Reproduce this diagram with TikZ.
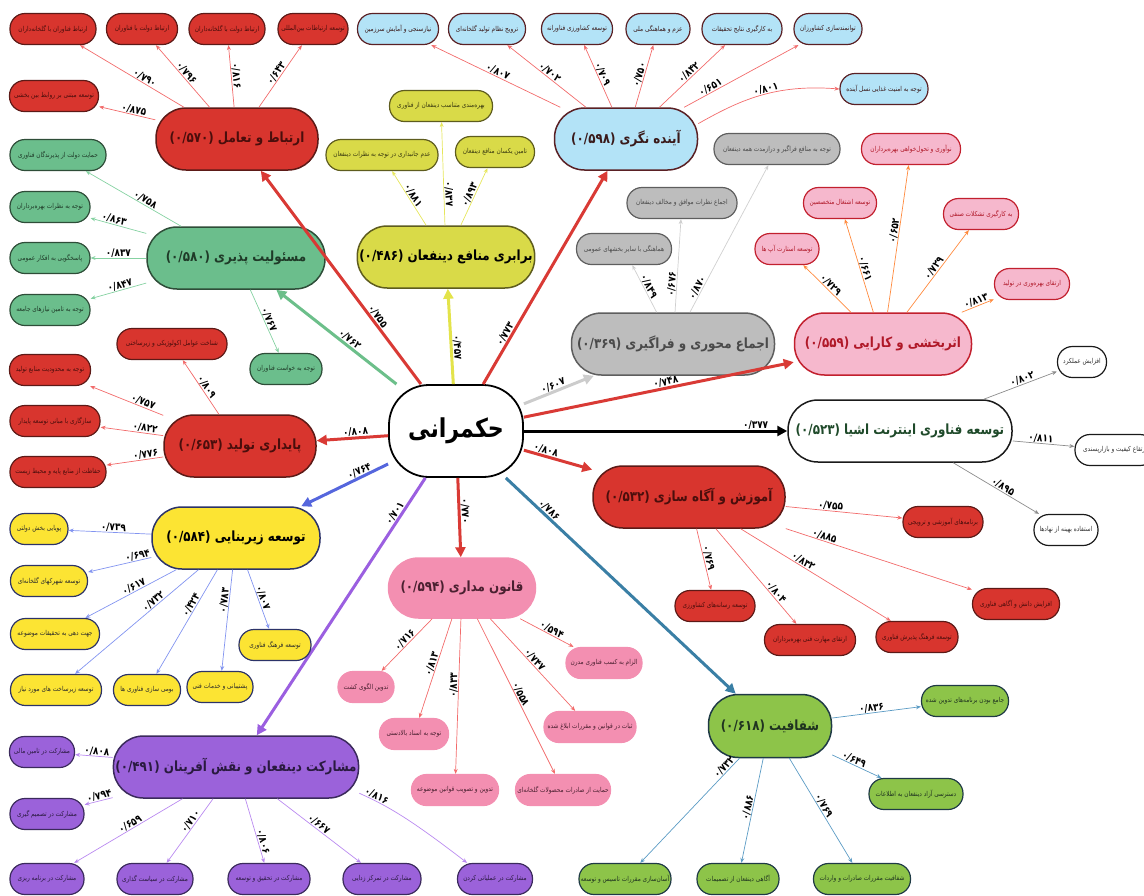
\documentclass[tikz,border=0pt]{standalone}
\usepackage{fontspec}
\usepackage{tikz}
\usetikzlibrary{arrows.meta}
\TeXXeTstate=1
\newfontfamily\farsi[Script=Arabic,FakeStretch=0.85]{DejaVu Sans}
\def\fatext#1{\beginR #1\endR}

\definecolor{redfill}{HTML}{D8352E}\definecolor{redline}{HTML}{5C1A17}\definecolor{redtext}{HTML}{4A0E0C}
\definecolor{greenfill}{HTML}{6BBE8C}\definecolor{greenline}{HTML}{2E4D38}\definecolor{greentext}{HTML}{1F3A28}
\definecolor{olivefill}{HTML}{D9DA48}\definecolor{oliveline}{HTML}{5E5C1E}\definecolor{olivetext}{HTML}{3A3A10}
\definecolor{bluefill}{HTML}{B3E3F7}\definecolor{blueline}{HTML}{5A2024}\definecolor{bluetext}{HTML}{3A1A1A}
\definecolor{grayfill}{HTML}{BDBDBD}\definecolor{grayline}{HTML}{5E5E5E}\definecolor{graytext}{HTML}{4A4A4A}
\definecolor{pinkfill}{HTML}{F6B8CD}\definecolor{pinkline}{HTML}{C2202E}\definecolor{pinktext}{HTML}{B01828}
\definecolor{iotline}{HTML}{1A1A1A}\definecolor{iottext}{HTML}{1F4A2A}
\definecolor{yellowfill}{HTML}{FCE433}\definecolor{yellowline}{HTML}{2C3368}\definecolor{yellowtext}{HTML}{2A2A2A}
\definecolor{rosefill}{HTML}{F38FB1}\definecolor{rosetext}{HTML}{4A2030}
\definecolor{purplefill}{HTML}{9B62DA}\definecolor{purpleline}{HTML}{3B2A5C}\definecolor{purpletext}{HTML}{2A1A40}
\definecolor{limefill}{HTML}{8DC449}\definecolor{limeline}{HTML}{1F3A45}\definecolor{limetext}{HTML}{1F3320}
% connector colours
\definecolor{trred}{HTML}{D93A35}\definecolor{trgreen}{HTML}{6CBF8A}\definecolor{tryellow}{HTML}{E3E34A}
\definecolor{trgray}{HTML}{CCCCCC}\definecolor{trblue}{HTML}{5566DD}\definecolor{trpurple}{HTML}{9B5FE0}
\definecolor{trsteel}{HTML}{3A7FA5}
\definecolor{twred}{HTML}{F26B6B}\definecolor{twgreen}{HTML}{86D2A2}\definecolor{twolive}{HTML}{E6E65C}
\definecolor{twgray}{HTML}{CFCFCF}\definecolor{tworange}{HTML}{FF8A3D}\definecolor{twdark}{HTML}{8C8C8C}
\definecolor{twblue}{HTML}{8294F0}\definecolor{twpurple}{HTML}{BA8AF0}\definecolor{twsteel}{HTML}{5B9BC4}

\tikzset{
  hub/.style={rectangle, rounded corners=40pt, minimum width=134pt, minimum height=92pt, line width=1.8pt,
    draw=black, fill=white, font=\farsi\bfseries\fontsize{26}{28}\selectfont},
  topic/.style={rectangle, rounded corners=30pt, minimum height=62pt, line width=1.5pt, inner sep=2pt,
    font=\farsi\bfseries\fontsize{14}{16}\selectfont},
  box/.style={rectangle, rounded corners=15pt, minimum height=31pt, inner sep=1pt, line width=1.2pt,
    font=\farsi\fontsize{6.8}{8}\selectfont},
  redbox/.style={fill=redfill, draw=redline, text=redtext},
  greenbox/.style={fill=greenfill, draw=greenline, text=greentext},
  olivebox/.style={fill=olivefill, draw=oliveline, text=olivetext},
  bluebox/.style={fill=bluefill, draw=blueline, text=bluetext},
  graybox/.style={fill=grayfill, draw=grayline, text=graytext},
  pinkbox/.style={fill=pinkfill, draw=pinkline, text=pinktext},
  iotbox/.style={fill=white, draw=iotline, text=iottext},
  yellowbox/.style={fill=yellowfill, draw=yellowline, text=yellowtext},
  rosebox/.style={fill=rosefill, draw=rosefill, text=rosetext},
  purplebox/.style={fill=purplefill, draw=purpleline, text=purpletext},
  limebox/.style={fill=limefill, draw=limeline, text=limetext},
  trunk/.style={line width=3pt, -{Triangle[length=10pt,width=10pt]}},
  twig/.style={line width=0.7pt, -{Stealth[length=5pt,width=4pt]}},
  num/.style={font=\farsi\bfseries\fontsize{10.5}{11}\selectfont, sloped, above, inner sep=0.3pt, text=black}
}

\begin{document}
\begin{tikzpicture}[x=1pt,y=-1pt]
%%%%% START %%%%%
\useasboundingbox (0,0) rectangle (1144,895);

\node[hub] (gov) at (456,431) {\fatext{حکمرانی}};

% topics round the hub
\node[topic, redbox, minimum width=162pt] (comm) at (237,139) {(۰/۵۷۰) \fatext{ارتباط و تعامل}};
\node[topic, greenbox, minimum width=178pt] (resp) at (236,258) {(۰/۵۸۰) \fatext{مسئولیت پذیری}};
\node[topic, olivebox, text=black, minimum width=176pt] (equ) at (446,257) {(۰/۴۸۶) \fatext{برابری منافع دینفعان}};
\node[topic, bluebox, minimum width=143pt] (fut) at (626,139) {(۰/۵۹۸) \fatext{آینده نگری}};
\node[topic, graybox, minimum width=203pt] (cons) at (673,344) {(۰/۳۶۹) \fatext{اجماع محوری و فراگیری}};
\node[topic, pinkbox, minimum width=177pt] (eff) at (883,344) {(۰/۵۵۹) \fatext{اثربخشی و کارایی}};
\node[topic, iotbox, minimum width=224pt] (iot) at (900,431) {(۰/۵۲۳) \fatext{توسعه فناوری اینترنت اشیا}};
\node[topic, redbox, minimum width=192pt] (edu) at (689,497) {(۰/۵۳۲) \fatext{آموزش و آگاه سازی}};
\node[topic, redbox, minimum width=152pt] (sus) at (240,446) {(۰/۶۵۳) \fatext{پایداری تولید}};
\node[topic, yellowbox, text=black, minimum width=168pt] (infra) at (236,538) {(۰/۵۸۴) \fatext{توسعه زیربنایی}};
\node[topic, rosebox, minimum width=147pt, minimum height=60pt] (law) at (462,588) {(۰/۵۹۴) \fatext{قانون مداری}};
\node[topic, purplebox, minimum width=235pt] (part) at (236,767) {(۰/۴۹۱) \fatext{مشارکت دینفعان و نقش آفرینان}};
\node[topic, limebox, minimum width=123pt, minimum height=63pt] (trans) at (770,726) {(۰/۶۱۸) \fatext{شفافیت}};

\draw[trunk, draw=trred] (gov) -- node[num, pos=.3]{۰/۷۵۵} (comm);
\draw[trunk, draw=trgreen] (gov) -- node[num, pos=.42]{۰/۷۶۲} (resp);
\draw[trunk, draw=tryellow] (gov) -- node[num, pos=.38]{۰/۴۵۷} (equ);
\draw[trunk, draw=trred] (gov) -- node[num, pos=.22]{۰/۷۷۳} (fut);
\draw[trunk, draw=trgray] (gov) -- node[num, pos=.45]{۰/۶۰۷} (cons);
\draw[trunk, draw=trred] (gov) -- node[num, pos=.53]{۰/۷۴۸} (eff);
\draw[trunk, draw=black] (gov) -- node[num, pos=.88]{۰/۳۷۷} (iot);
\draw[trunk, draw=trred] (gov) -- node[num, pos=.3]{۰/۸۰۸} (edu);
\draw[trunk, draw=trred] (gov) -- node[num, pos=.45]{۰/۸۰۸} (sus);
\draw[trunk, draw=trblue] (gov) -- node[num, pos=.3]{۰/۷۶۴} (infra);
\draw[trunk, draw=trred] (gov) -- node[num, pos=.42]{۰/۷۷۰} (law);
\draw[trunk, draw=trpurple] (gov) -- node[num, pos=.15]{۰/۷۰۱} (part);
\draw[trunk, draw=trsteel] (gov) -- node[num, pos=.17]{۰/۷۸۶} (trans);

% ertebat
\node[box, redbox, minimum width=86pt] (comm1) at (53,29) {\fatext{ارتباط فناوران با گلخانه‌داران}};
\node[box, redbox, minimum width=71pt] (comm2) at (142,29) {\fatext{ارتباط دولت با فناوران}};
\node[box, redbox, minimum width=76pt] (comm3) at (227,29) {\fatext{ارتباط دولت با گلخانه‌داران}};
\node[box, redbox, minimum width=70pt] (comm4) at (313,29) {\fatext{توسعه ارتباطات بین‌المللی}};
\node[box, redbox, minimum width=89pt] (comm5) at (54,96) {\fatext{توسعه مبتنی بر روابط بین بخشی}};
\draw[twig, draw=twred] (comm) -- node[num, pos=.4]{۰/۷۹۰} (comm1);
\draw[twig, draw=twred] (comm) -- node[num]{۰/۷۹۶} (comm2);
\draw[twig, draw=twred] (comm) -- node[num]{۰/۸۱۶} (comm3);
\draw[twig, draw=twred] (comm) -- node[num]{۰/۶۴۳} (comm4);
\draw[twig, draw=twred] (comm) -- node[num, pos=.4]{۰/۸۷۵} (comm5);

% masouliat
\node[box, greenbox, minimum width=96pt] (resp1) at (58,155) {\fatext{حمایت دولت از پذیرندگان فناوری}};
\node[box, greenbox, minimum width=80pt] (resp2) at (50,207) {\fatext{توجه به نظرات بهره‌برداران}};
\node[box, greenbox, minimum width=80pt] (resp3) at (50,258) {\fatext{پاسخگویی به افکار عمومی}};
\node[box, greenbox, minimum width=80pt] (resp4) at (50,310) {\fatext{توجه به تامین نیازهای جامعه}};
\node[box, greenbox, minimum width=72pt] (resp5) at (286,369) {\fatext{توجه به خواست فناوران}};
\draw[twig, draw=twgreen] (resp) -- node[num, pos=.4]{۰/۷۵۸} (resp1);
\draw[twig, draw=twgreen] (resp) -- node[num, pos=.6]{۰/۸۶۳} (resp2);
\draw[twig, draw=twgreen] (resp) -- node[num]{۰/۸۳۷} (resp3);
\draw[twig, draw=twgreen] (resp) -- node[num, pos=.45]{۰/۸۴۷} (resp4);
\draw[twig, draw=twgreen] (resp) -- node[num]{۰/۷۶۷} (resp5);

% barabari
\node[box, olivebox, minimum width=103pt] (equ1) at (441,106) {\fatext{بهره‌مندی متناسب دینفعان از فناوری}};
\node[box, olivebox, minimum width=112pt] (equ2) at (382,155) {\fatext{عدم جانبداری در توجه به نظرات دینفعان}};
\node[box, olivebox, minimum width=79pt] (equ3) at (495,152) {\fatext{تامین یکسان منافع دینفعان}};
\draw[twig, draw=twolive] (equ) -- node[num]{۰/۸۸۱} (equ2);
\draw[twig, draw=twolive] (equ) -- node[num, pos=.3]{۰/۸۳۷} (equ1);
\draw[twig, draw=twolive] (equ) -- node[num]{۰/۸۹۳} (equ3);

% ayandenegari
\node[box, bluebox, minimum width=81pt] (fut1) at (398,29) {\fatext{نیازسنجی و آمایش سرزمین}};
\node[box, bluebox, minimum width=77pt] (fut2) at (487,29) {\fatext{ترویج نظام تولید گلخانه‌ای}};
\node[box, bluebox, minimum width=71pt] (fut3) at (577,29) {\fatext{توسعه کشاورزی فناورانه}};
\node[box, bluebox, minimum width=64pt] (fut4) at (658,29) {\fatext{عزم و هماهنگی ملی}};
\node[box, bluebox, minimum width=80pt] (fut5) at (742,29) {\fatext{به کارگیری نتایج تحقیقات}};
\node[box, bluebox, minimum width=68pt] (fut6) at (828,29) {\fatext{توانمندسازی کشاورزان}};
\node[box, bluebox, minimum width=88pt] (fut7) at (884,89) {\fatext{توجه به امنیت غذایی نسل آینده}};
\draw[twig, draw=twred] (fut) -- node[num]{۰/۸۰۷} (fut1);
\draw[twig, draw=twred] (fut) -- node[num]{۰/۷۰۲} (fut2);
\draw[twig, draw=twred] (fut) -- node[num]{۰/۷۰۹} (fut3);
\draw[twig, draw=twred] (fut) -- node[num]{۰/۷۵۰} (fut4);
\draw[twig, draw=twred] (fut) -- node[num]{۰/۸۴۲} (fut5);
\draw[twig, draw=twred] (fut) -- node[num, pos=.25]{۰/۶۵۱} (fut6);
\draw[twig, draw=twred] (fut.12) .. controls (740,100) and (775,84) .. node[num, pos=.55]{۰/۸۰۱} (fut7.west);

% ejma
\node[box, graybox, minimum width=126pt] (cons1) at (777,149) {\fatext{توجه به منافع فراگیر و درازمدت همه دینفعان}};
\node[box, graybox, minimum width=110pt] (cons2) at (682,203) {\fatext{اجماع نظرات موافق و مخالف دینفعان}};
\node[box, graybox, minimum width=95pt] (cons3) at (624,249) {\fatext{هماهنگی با سایر بخشهای عمومی}};
\draw[twig, draw=twgray] (cons) -- node[num]{۰/۸۴۹} (cons3);
\draw[twig, draw=twgray] (cons) -- node[num, pos=.3]{۰/۶۷۶} (cons2);
\draw[twig, draw=twgray] (cons) -- node[num, pos=.15]{۰/۸۷۰} (cons1);

% asarbakhshi
\node[box, pinkbox, minimum width=99pt] (eff1) at (911,149) {\fatext{نوآوری و تحول‌خواهی بهره‌برداران}};
\node[box, pinkbox, minimum width=73pt] (eff2) at (840,203) {\fatext{توسعه اشتغال متخصصین}};
\node[box, pinkbox, minimum width=75pt] (eff3) at (981,214) {\fatext{به کارگیری تشکلات صنفی}};
\node[box, pinkbox, minimum width=64pt] (eff4) at (787,249) {\fatext{توسعه استارت آپ ها}};
\node[box, pinkbox, minimum width=75pt] (eff5) at (1032,284) {\fatext{ارتقای بهره‌وری در تولید}};
\draw[twig, draw=tworange] (eff) -- node[num]{۰/۷۲۹} (eff4);
\draw[twig, draw=tworange] (eff) -- node[num, pos=.45]{۰/۶۶۱} (eff2);
\draw[twig, draw=tworange] (eff) -- node[num, pos=.55]{۰/۶۵۲} (eff1);
\draw[twig, draw=tworange] (eff) -- node[num]{۰/۷۲۹} (eff3);
\draw[twig, draw=tworange] (eff) -- node[num]{۰/۸۱۳} (eff5);

% internet ashia
\node[box, iotbox, text=black!80, minimum width=49pt] (iot1) at (1082,362) {\fatext{افزایش عملکرد}};
\node[box, iotbox, text=black!80, minimum width=80pt] (iot2) at (1115,450) {\fatext{ارتقاع کیفیت و بازارپسندی}};
\node[box, iotbox, text=black!80, minimum width=64pt] (iot3) at (1066,530) {\fatext{استفاده بهینه از نهادها}};
\draw[twig, draw=twdark] (iot) -- node[num, pos=.55]{۰/۸۰۲} (iot1);
\draw[twig, draw=twdark] (iot) -- node[num, pos=.45]{۰/۸۱۱} (iot2);
\draw[twig, draw=twdark] (iot) -- node[num, pos=.55]{۰/۸۹۵} (iot3);

% amoozesh
\node[box, redbox, minimum width=80pt] (edu1) at (943,522) {\fatext{برنامه‌های آموزشی و ترویجی}};
\node[box, redbox, minimum width=87pt] (edu2) at (1016,604) {\fatext{افزایش دانش و آگاهی فناوری}};
\node[box, redbox, minimum width=82pt] (edu3) at (917,637) {\fatext{توسعه فرهنگ پذیرش فناوری}};
\node[box, redbox, minimum width=91pt] (edu4) at (810,640) {\fatext{ارتقای مهارت فنی بهره‌برداران}};
\node[box, redbox, minimum width=80pt] (edu5) at (715,606) {\fatext{توسعه رسانه‌های کشاورزی}};
\draw[twig, draw=twred] (edu) -- node[num, pos=.38]{۰/۷۵۵} (edu1);
\draw[twig, draw=twred] (edu) -- node[num, pos=.2]{۰/۸۸۵} (edu2);
\draw[twig, draw=twred] (edu) -- node[num, pos=.4]{۰/۸۳۲} (edu3);
\draw[twig, draw=twred] (edu) -- node[num, pos=.7]{۰/۸۰۴} (edu4);
\draw[twig, draw=twred] (edu) -- node[num]{۰/۷۶۹} (edu5);

% paydari
\node[box, redbox, minimum width=110pt] (sus1) at (172,344) {\fatext{شناخت عوامل اکولوژیکی و زیرساختی}};
\node[box, redbox, minimum width=81pt] (sus2) at (50,370) {\fatext{توجه به محدودیت منابع تولید}};
\node[box, redbox, minimum width=90pt] (sus3) at (55,421) {\fatext{سازگاری با مبانی توسعه پایدار}};
\node[box, redbox, minimum width=96pt] (sus4) at (58,472) {\fatext{حفاظت از منابع پایه و محیط زیست}};
\draw[twig, draw=twred] (sus) -- node[num, pos=.45]{۰/۸۰۹} (sus1);
\draw[twig, draw=twred] (sus) -- node[num, pos=.3]{۰/۷۵۷} (sus2);
\draw[twig, draw=twred] (sus) -- node[num, pos=.3]{۰/۸۲۲} (sus3);
\draw[twig, draw=twred] (sus) -- node[num, pos=.3]{۰/۷۷۶} (sus4);

% zirbanaei
\node[box, yellowbox, minimum width=58pt] (infra1) at (39,529) {\fatext{پویایی بخش دولتی}};
\node[box, yellowbox, minimum width=77pt] (infra2) at (49,581) {\fatext{توسعه شهرکهای گلخانه‌ای}};
\node[box, yellowbox, minimum width=89pt] (infra3) at (55,634) {\fatext{جهت دهی به تحقیقات موضوعه}};
\node[box, yellowbox, minimum width=91pt] (infra4) at (56,690) {\fatext{توسعه زیرساخت های مورد نیاز}};
\node[box, yellowbox, minimum width=67pt] (infra5) at (147,690) {\fatext{بومی سازی فناوری ها}};
\node[box, yellowbox, minimum width=66pt] (infra6) at (220,687) {\fatext{پشتیبانی و خدمات فنی}};
\node[box, yellowbox, minimum width=72pt] (infra7) at (275,645) {\fatext{توسعه فرهنگ فناوری}};
\draw[twig, draw=twblue] (infra) -- node[num, pos=.46]{۰/۷۳۹} (infra1);
\draw[twig, draw=twblue] (infra) -- node[num, pos=.2]{۰/۶۹۴} (infra2);
\draw[twig, draw=twblue] (infra) -- node[num, pos=.44]{۰/۶۱۷} (infra3);
\draw[twig, draw=twblue] (infra) -- node[num, pos=.34]{۰/۷۳۲} (infra4);
\draw[twig, draw=twblue] (infra) -- node[num, pos=.36]{۰/۴۲۴} (infra5);
\draw[twig, draw=twblue] (infra) -- node[num, pos=.31]{۰/۷۸۳} (infra6);
\draw[twig, draw=twblue] (infra) -- node[num]{۰/۸۰۷} (infra7);

% ghanoon
\node[box, rosebox, minimum width=56pt] (law1) at (366,687) {\fatext{تدوین الگوی کشت}};
\node[box, rosebox, minimum width=69pt] (law2) at (414,734) {\fatext{توجه به اسناد بالادستی}};
\node[box, rosebox, minimum width=87pt] (law3) at (455,790) {\fatext{تدوین و تصویب قوانین موضوعه}};
\node[box, rosebox, minimum width=95pt] (law4) at (563,790) {\fatext{حمایت از صادرات محصولات گلخانه‌ای}};
\node[box, rosebox, minimum width=92pt] (law5) at (590,727) {\fatext{ثبات در قوانین و مقررات ابلاغ شده}};
\node[box, rosebox, minimum width=76pt] (law6) at (604,663) {\fatext{الزام به کسب فناوری مدرن}};
\draw[twig, draw=twred] (law) -- node[num, pos=.47]{۰/۷۱۶} (law1);
\draw[twig, draw=twred] (law) -- node[num, pos=.47]{۰/۸۱۳} (law2);
\draw[twig, draw=twred] (law) -- node[num, pos=.43]{۰/۸۳۳} (law3);
\draw[twig, draw=twred] (law) -- node[num]{۰/۵۵۸} (law4);
\draw[twig, draw=twred] (law) -- node[num, pos=.48]{۰/۷۴۷} (law5);
\draw[twig, draw=twred] (law) -- node[num, pos=.55]{۰/۵۹۴} (law6);

% masharekat
\node[box, purplebox, minimum width=65pt] (part1) at (42,752) {\fatext{مشارکت در تامین مالی}};
\node[box, purplebox, minimum width=74pt] (part2) at (47,814) {\fatext{مشارکت در تصمیم گیری}};
\node[box, purplebox, minimum width=74pt] (part3) at (47,879) {\fatext{مشارکت در برنامه ریزی}};
\node[box, purplebox, minimum width=76pt] (part4) at (155,879) {\fatext{مشارکت در سیاست گذاری}};
\node[box, purplebox, minimum width=82pt] (part5) at (269,879) {\fatext{مشارکت در تحقیق و توسعه}};
\node[box, purplebox, minimum width=78pt] (part6) at (382,879) {\fatext{مشارکت در تمرکز زدایی}};
\node[box, purplebox, minimum width=75pt] (part7) at (495,879) {\fatext{مشارکت در عملیاتی کردن}};
\draw[twig, draw=twpurple] (part) -- node[num, pos=.43]{۰/۸۰۸} (part1);
\draw[twig, draw=twpurple] (part) -- node[num, pos=.44]{۰/۷۹۴} (part2);
\draw[twig, draw=twpurple] (part) -- node[num, pos=.46]{۰/۶۵۹} (part3);
\draw[twig, draw=twpurple] (part) -- node[num, pos=.4]{۰/۷۱۰} (part4);
\draw[twig, draw=twpurple] (part) -- node[num, pos=.69]{۰/۸۰۶} (part5);
\draw[twig, draw=twpurple] (part) -- node[num, pos=.46]{۰/۶۶۷} (part6);
\draw[twig, draw=twpurple] (part.-12) .. controls (385,805) and (405,815) .. node[num, pos=.2]{۰/۸۱۶} (part7.150);

% shafafiat
\node[box, limebox, minimum width=87pt] (trans1) at (965,701) {\fatext{جامع بودن برنامه‌های تدوین شده}};
\node[box, limebox, minimum width=94pt] (trans2) at (916,794) {\fatext{دسترسی آزاد دینفعان به اطلاعات}};
\node[box, limebox, minimum width=97pt] (trans3) at (862,879) {\fatext{شفافیت مقررات صادرات و واردات}};
\node[box, limebox, minimum width=82pt] (trans4) at (738,879) {\fatext{آگاهی دینفعان از تصمیمات}};
\node[box, limebox, minimum width=92pt] (trans5) at (625,879) {\fatext{آسان‌سازی مقررات تاسیس و توسعه}};
\draw[twig, draw=twsteel] (trans) -- node[num, pos=.45]{۰/۸۳۶} (trans1);
\draw[twig, draw=twsteel] (trans) -- node[num, pos=.4]{۰/۶۴۹} (trans2);
\draw[twig, draw=twsteel] (trans) -- node[num, pos=.48]{۰/۷۶۹} (trans3);
\draw[twig, draw=twsteel] (trans) -- node[num, pos=.48]{۰/۸۸۶} (trans4);
\draw[twig, draw=twsteel] (trans) -- node[num, pos=.12]{۰/۷۳۲} (trans5);

%%%%% END %%%%%
\end{tikzpicture}
\end{document}
